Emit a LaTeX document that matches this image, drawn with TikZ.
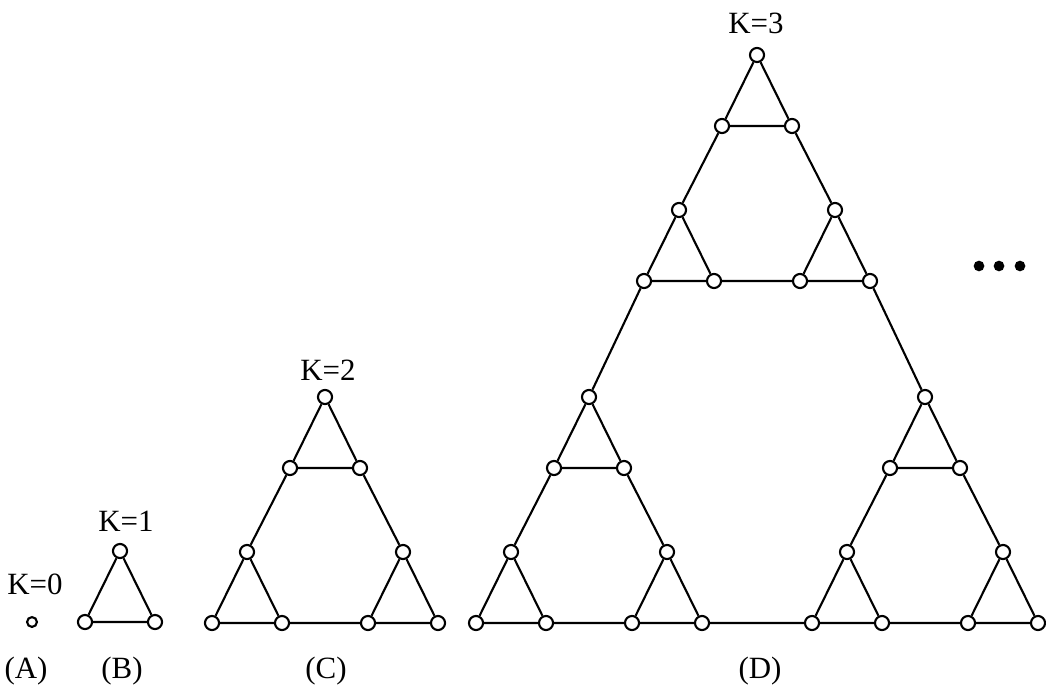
\documentclass[tikz,border=0pt]{standalone}
\usepackage{fontspec}
\setmainfont{Liberation Serif}
\usetikzlibrary{calc}

\tikzset{
    vertex/.style={circle, draw, fill=white, line width=1.5pt, inner sep=0pt, minimum size=10pt},
    edge/.style={line width=1.5pt},
    lbl/.style={font=\fontsize{22}{26}\selectfont, inner sep=0pt, anchor=base}
}

% K=1: apex #1a, base corners #1b (left) and #1c (right)
\newcommand{\hanoione}[3]{%
    \node[vertex] (#1a) at (#2,#3) {};
    \node[vertex] (#1b) at (#2-35,#3+71) {};
    \node[vertex] (#1c) at (#2+35,#3+71) {};
    \draw[edge] (#1a) -- (#1b) -- (#1c) -- (#1a);
}
% K=2: three K=1 copies (t, l, r) and the links between them
\newcommand{\hanoitwo}[3]{%
    \hanoione{#1t}{#2}{#3}
    \hanoione{#1l}{#2-78}{#3+155}
    \hanoione{#1r}{#2+78}{#3+155}
    \draw[edge] (#1tb) -- (#1la) (#1tc) -- (#1ra) (#1lc) -- (#1rb);
}
% K=3: three K=2 copies and the links between them
\newcommand{\hanoithree}[3]{%
    \hanoitwo{#1t}{#2}{#3}
    \hanoitwo{#1l}{#2-168}{#3+342}
    \hanoitwo{#1r}{#2+168}{#3+342}
    \draw[edge] (#1tlb) -- (#1lta) (#1trc) -- (#1rta) (#1lrc) -- (#1rlb);
}

\begin{document}
\begin{tikzpicture}[x=0.025cm, y=-0.025cm]

    \useasboundingbox (0,0) rectangle (1046,689);

    % 1. K=0, a single vertex
    \node[vertex, minimum size=7pt] (A) at (32,622) {};
    \node[lbl] (kA) at (35,594) {K=0};
    \node[lbl] (capA) at (26,678) {(A)};

    % 2. K=1
    \hanoione{B-}{120}{551}
    \node[lbl] (kB) at (126,531) {K=1};
    \node[lbl] (capB) at (122,678) {(B)};

    % 3. K=2
    \hanoitwo{C-}{325}{397}
    \node[lbl] (kC) at (328,380) {K=2};
    \node[lbl] (capC) at (326,678) {(C)};

    % 4. K=3
    \hanoithree{D-}{757}{55}
    \node[lbl] (kD) at (756,34) {K=3};
    \node[lbl] (capD) at (760,678) {(D)};

    % 5. and so on
    \foreach \x in {979,999,1020}
        \fill (\x,266) circle[radius=3.8pt];

\end{tikzpicture}
\end{document}
